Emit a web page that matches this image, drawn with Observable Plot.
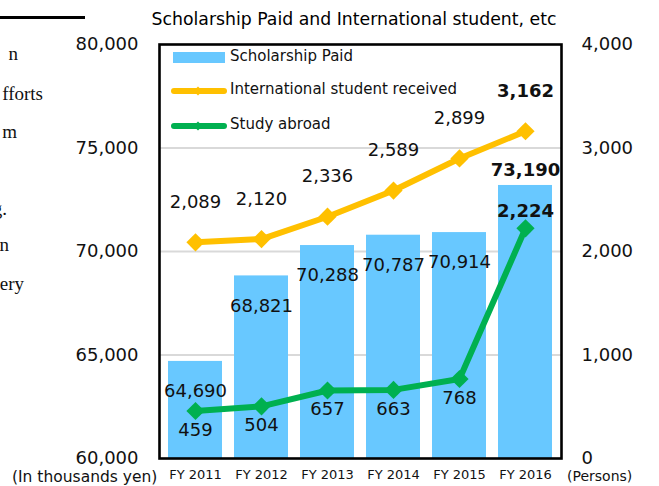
<!DOCTYPE html>
<html>
<head>
<meta charset="utf-8">
<script src="https://cdn.jsdelivr.net/npm/d3@7"></script>
<script src="https://cdn.jsdelivr.net/npm/@observablehq/plot@0.6"></script>
<style>
  html, body { margin: 0; padding: 0; background: #fff; }
  #wrap { position: relative; width: 659px; height: 486px; overflow: hidden; font-family: "DejaVu Sans", Verdana, sans-serif; color: #111; }
  .abs { position: absolute; white-space: nowrap; }
  .frag { font-family: "Liberation Serif", "DejaVu Serif", serif; font-size: 19px; line-height: 1; text-align: right; }
  .leg { font-size: 15px; line-height: 1; }
</style>
</head>
<body>
<div id="wrap"></div>
<script>
// ---- data ----
const years = ["FY 2011", "FY 2012", "FY 2013", "FY 2014", "FY 2015", "FY 2016"];
const scholarshipPaid = [64690, 68821, 70288, 70787, 70914, 73190];
const internationalReceived = [2089, 2120, 2336, 2589, 2899, 3162];
const studyAbroad = [459, 504, 657, 663, 768, 2224];
const leftTicks = [60000, 65000, 70000, 75000, 80000];
const rightTicks = [0, 1000, 2000, 3000, 4000];
const seriesNames = ["Scholarship Paid", "International student received", "Study abroad"];
const titleText = "Scholarship Paid and International student, etc";
const leftUnit = "(In thousands yen)";
const rightUnit = "(Persons)";
const leftFragments = ["n", "fforts", "m", "g.", "n", "ery"];

// persons mapped onto the yen axis (0..4000 -> 60000..80000)
const toYen = p => 60000 + p * 5;
const fmt = d3.format(",");

const rows = years.map((year, i) => ({
  year,
  paid: scholarshipPaid[i],
  intl: internationalReceived[i],
  abroad: studyAbroad[i],
  last: i === years.length - 1
}));

const blue = "#68c8ff", orange = "#ffc000", green = "#00b050";

const chart = Plot.plot({
  width: 659,
  height: 486,
  marginLeft: 159,
  marginRight: 98,
  marginTop: 44,
  marginBottom: 28,
  style: { fontFamily: "DejaVu Sans, Verdana, sans-serif", color: "#111", background: "transparent" },
  x: { domain: years, paddingInner: 0.18, paddingOuter: 0.1, label: null },
  y: { domain: [60000, 80000], label: null },
  marks: [
    Plot.gridY([65000, 70000, 75000], { stroke: "#d9d9d9", strokeOpacity: 1, strokeWidth: 2 }),
    Plot.barY(rows, { x: "year", y1: 60000, y2: "paid", fill: blue }),
    Plot.line(rows, { x: "year", y: d => toYen(d.intl), stroke: orange, strokeWidth: 6 }),
    Plot.dot(rows, { x: "year", y: d => toYen(d.intl), symbol: "diamond2", r: 8.2, fill: orange }),
    Plot.line(rows, { x: "year", y: d => toYen(d.abroad), stroke: green, strokeWidth: 6 }),
    Plot.dot(rows, { x: "year", y: d => toYen(d.abroad), symbol: "diamond2", r: 8.2, fill: green }),
    // bar labels
    Plot.text(rows.filter(d => !d.last), { x: "year", y: "paid", text: d => fmt(d.paid), dy: 30, fontSize: 18, fill: "#111" }),
    Plot.text(rows.filter(d => d.last), { x: "year", y: "paid", text: d => fmt(d.paid), dy: -15, fontSize: 18, fontWeight: "bold", fill: "#111" }),
    // international labels
    Plot.text(rows.filter(d => !d.last), { x: "year", y: d => toYen(d.intl), text: d => fmt(d.intl), dy: -40, fontSize: 18, fill: "#111" }),
    Plot.text(rows.filter(d => d.last), { x: "year", y: d => toYen(d.intl), text: d => fmt(d.intl), dy: -40, fontSize: 18, fontWeight: "bold", fill: "#111" }),
    // study abroad labels
    Plot.text(rows.filter(d => !d.last), { x: "year", y: d => toYen(d.abroad), text: d => fmt(d.abroad), dy: 19, fontSize: 18, fill: "#111" }),
    Plot.text(rows.filter(d => d.last), { x: "year", y: d => toYen(d.abroad), text: d => fmt(d.abroad), dy: -17, fontSize: 18, fontWeight: "bold", fill: "#111" }),
    Plot.frame({ stroke: "#000", strokeWidth: 2.6 }),
    Plot.axisY(leftTicks, { anchor: "left", tickSize: 0, tickPadding: 21, tickFormat: fmt, fontSize: 18, label: null }),
    Plot.axisY(rightTicks.map(toYen), { anchor: "right", tickSize: 0, tickPadding: 20, tickFormat: d => fmt((d - 60000) / 5), fontSize: 18, label: null }),
    Plot.axisX({ tickSize: 0, tickPadding: 11, fontSize: 13, label: null })
  ]
});

const wrap = document.getElementById("wrap");
chart.style.position = "absolute";
chart.style.left = "0px";
chart.style.top = "0px";
wrap.appendChild(chart);

function addDiv(text, css, cls) {
  const el = document.createElement("div");
  el.className = "abs " + (cls || "");
  el.textContent = text;
  Object.assign(el.style, css);
  wrap.appendChild(el);
  return el;
}

// title
addDiv(titleText, { left: "0px", width: "708px", textAlign: "center", top: "11px", fontSize: "17.3px", lineHeight: "1", color: "#000" });
// unit labels
addDiv(leftUnit, { left: "12px", top: "470px", fontSize: "15.5px", lineHeight: "1" });
addDiv(rightUnit, { left: "567px", top: "469px", fontSize: "14px", lineHeight: "1" });

// cropped document text on the left
const fragTops = [44, 84, 122, 199, 235, 274];
const fragEnds = [18, 43, 17, 7, 9, 24];
leftFragments.forEach((t, i) => {
  addDiv(t, { right: (659 - fragEnds[i]) + "px", top: fragTops[i] + "px" }, "frag");
});
const rule = document.createElement("div");
rule.className = "abs";
Object.assign(rule.style, { left: "0px", top: "16px", width: "85px", height: "3px", background: "#000" });
wrap.appendChild(rule);

// legend
const legColors = [blue, orange, green];
const legY = [58, 91, 126];
seriesNames.forEach((name, i) => {
  const sw = document.createElementNS("http://www.w3.org/2000/svg", "svg");
  sw.setAttribute("width", "60");
  sw.setAttribute("height", "16");
  sw.style.position = "absolute";
  sw.style.left = "169px";
  sw.style.top = (legY[i] - 8) + "px";
  if (i === 0) {
    sw.innerHTML = `<rect x="4" y="2" width="52" height="11" fill="${legColors[i]}"/>`;
  } else {
    sw.innerHTML = `<line x1="5" y1="8" x2="55" y2="8" stroke="${legColors[i]}" stroke-width="6" stroke-linecap="round"/>` +
      `<path d="M29,3.5L33.5,8L29,12.5L24.5,8Z" fill="${legColors[i]}"/>`;
  }
  wrap.appendChild(sw);
  addDiv(name, { left: "230px", top: (legY[i] - 9) + "px" }, "leg");
});
</script>
</body>
</html>
